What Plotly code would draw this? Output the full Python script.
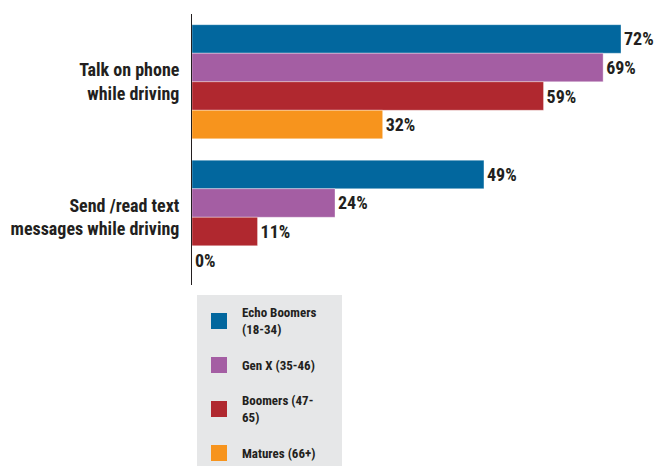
import plotly.graph_objects as go

# Survey: share of each generation doing distracted-driving activities
categories = ["Talk on phone<br>while driving", "Send /read text<br>messages while driving"]
series_names = ["Echo Boomers (18-34)", "Gen X (35-46)", "Boomers (47-65)", "Matures (66+)"]
legend_labels = ["Echo Boomers<br>(18-34)", "Gen X (35-46)", "Boomers (47-<br>65)", "Matures (66+)"]
echo_boomers = [72, 49]
gen_x = [69, 24]
boomers = [59, 11]
matures = [32, 0]
colors = ["#02679e", "#a45ea3", "#b0282f", "#f7941d"]

series_values = [echo_boomers, gen_x, boomers, matures]

W, H = 660, 466
L, R, T, B = 192, 0, 14, 181
plot_w = W - L - R
plot_h = H - T - B

TEXT = "#231f20"
FONT = "Roboto Condensed"

fig = go.Figure()
for name, vals, col in zip(series_names, series_values, colors):
    fig.add_trace(go.Bar(
        y=categories, x=vals, name=name, orientation="h",
        marker=dict(color=col, line=dict(color="rgba(255,255,255,0.6)", width=0.6)),
        text=[f"{v}%" for v in vals], textposition="outside",
        textfont=dict(family=FONT, size=18, color=TEXT, weight="bold"),
        cliponaxis=False, showlegend=False,
    ))


def px_x(p):
    return (p - L) / plot_w


def px_y(p):
    return (T + plot_h - p) / plot_h


# Legend panel
shapes = [dict(type="rect", xref="paper", yref="paper",
               x0=px_x(197), x1=px_x(342), y0=px_y(295), y1=px_y(470),
               fillcolor="#e6e7e8", line=dict(width=0), layer="below")]
annotations = []
legend_rows = [321, 365, 409, 453]
for lab, col, yc in zip(legend_labels, colors, legend_rows):
    shapes.append(dict(type="rect", xref="paper", yref="paper",
                       x0=px_x(211), x1=px_x(227), y0=px_y(yc - 8), y1=px_y(yc + 8),
                       fillcolor=col, line=dict(width=0)))
    annotations.append(dict(xref="paper", yref="paper", x=px_x(240), y=px_y(yc),
                            text=lab, showarrow=False, xanchor="left", yanchor="middle",
                            align="left",
                            font=dict(family=FONT, size=13, color=TEXT, weight="bold")))

fig.update_layout(
    width=W, height=H,
    margin=dict(l=L, r=R, t=T, b=B, pad=0),
    paper_bgcolor="white", plot_bgcolor="white",
    barmode="group", bargap=0.158, bargroupgap=0,
    xaxis=dict(range=[0, plot_w / (429 / 72)], visible=False, fixedrange=True),
    yaxis=dict(autorange="reversed", showline=True, linecolor=TEXT, linewidth=1,
               ticks="", showgrid=False, ticklabelstandoff=8,
               tickfont=dict(family=FONT, size=18, color=TEXT, weight="bold")),
    shapes=shapes, annotations=annotations,
    uniformtext=dict(mode=False),
)

fig.write_html("out.html")
